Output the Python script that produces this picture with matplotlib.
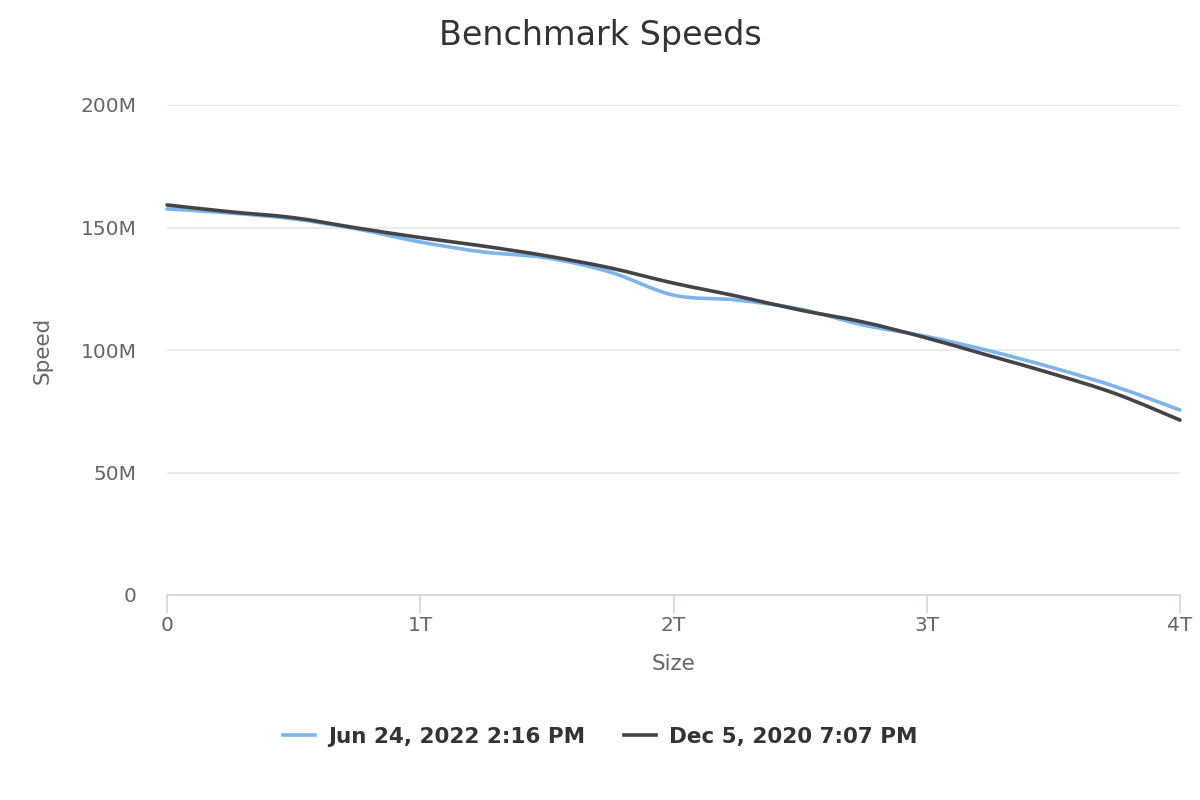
import numpy as np
import matplotlib
matplotlib.use("Agg")
import matplotlib.pyplot as plt
from matplotlib.path import Path
from matplotlib.patches import PathPatch
from matplotlib.lines import Line2D

# data, size in T, speed in M
sizes = [0, 0.25, 0.5, 0.75, 1.0, 1.25, 1.5, 1.75, 2.0, 2.25, 2.5, 2.75, 3.0, 3.25, 3.5, 3.75, 4.0]
speed_2022 = [157.6, 155.9, 153.5, 149.4, 144.1, 140.0, 137.6, 131.8, 122.4, 120.4, 116.7, 110.2, 105.5, 99.6, 92.7, 84.9, 75.5]
speed_2020 = [159.2, 156.4, 154.0, 149.8, 145.9, 142.4, 138.4, 133.5, 127.3, 122.0, 116.3, 111.4, 104.9, 97.6, 90.2, 82.0, 71.4]
labels = ["Jun 24, 2022 2:16 PM", "Dec 5, 2020 7:07 PM"]
colors = ["#7cb5ec", "#434348"]
xticks = [0, 1, 2, 3, 4]
xticklabels = ["0", "1T", "2T", "3T", "4T"]
yticks = [0, 50, 100, 150, 200]
yticklabels = ["0", "50M", "100M", "150M", "200M"]

plt.rcParams['font.family'] = ['DejaVu Sans']


def spline_path(xs, ys):
    # catmull-rom -> cubic bezier, the way the chart smooths its line
    p = np.column_stack([xs, ys]).astype(float)
    verts = [p[0]]
    codes = [Path.MOVETO]
    n = len(p)
    for i in range(n - 1):
        p0 = p[i - 1] if i > 0 else p[i]
        p3 = p[i + 2] if i + 2 < n else p[i + 1]
        c1 = p[i] + (p[i + 1] - p0) / 6.0
        c2 = p[i + 1] - (p3 - p[i]) / 6.0
        verts += [c1, c2, p[i + 1]]
        codes += [Path.CURVE4] * 3
    return Path(verts, codes)


fig = plt.figure(figsize=(12, 8), dpi=100)
ax = fig.add_axes([167 / 1200, 1 - 595 / 800, (1180 - 167) / 1200, (595 - 105) / 800])

for ys, c in zip([speed_2022, speed_2020], colors):
    ax.add_patch(PathPatch(spline_path(sizes, ys), fill=False, edgecolor=c, lw=2.6,
                           capstyle='round', joinstyle='round', clip_on=False, zorder=3))

ax.set_xlim(0, 4)
ax.set_ylim(0, 200)
ax.set_xticks(xticks)
ax.set_xticklabels(xticklabels)
ax.set_yticks(yticks)
ax.set_yticklabels(yticklabels)
ax.grid(axis='y', color='#e6e6e6', lw=1.2)
ax.set_axisbelow(True)
for s in ['top', 'right', 'left']:
    ax.spines[s].set_visible(False)
ax.spines['bottom'].set_color('#ccd6eb')
ax.spines['bottom'].set_linewidth(1.2)
ax.tick_params(axis='x', colors='#ccd6eb', length=13, width=1.2, pad=2, labelcolor='#666666', labelsize=14.5)
ax.tick_params(axis='y', length=0, pad=22, labelcolor='#666666', labelsize=14.5)

ax.set_xlabel("Size", color='#666666', fontsize=15.5, labelpad=14)
ax.set_ylabel("Speed", color='#666666', fontsize=15.5, labelpad=20)
fig.text(0.5, 1 - 35 / 800, "Benchmark Speeds", ha='center', va='center', fontsize=24, color='#333333')

handles = [Line2D([], [], color=c, lw=2.6) for c in colors]
fig.legend(handles, labels, loc='center', bbox_to_anchor=(0.5, 1 - 737 / 800), ncol=2, frameon=False,
           handlelength=1.5, columnspacing=1.8, handletextpad=0.6,
           prop={'size': 15.5, 'weight': 'bold'}, labelcolor='#333333')

fig.savefig("out.png", dpi=100, facecolor='white')
